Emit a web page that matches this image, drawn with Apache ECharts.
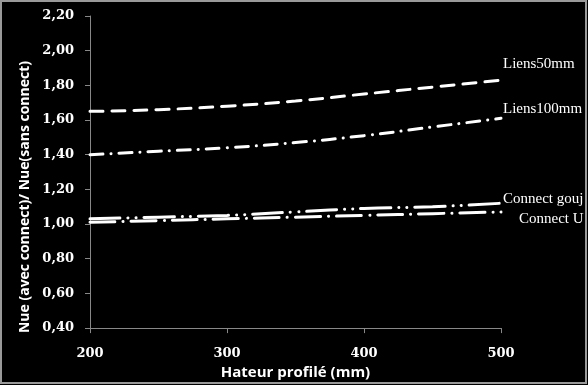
<!DOCTYPE html>
<html><head><meta charset="utf-8">
<script src="https://cdn.jsdelivr.net/npm/echarts@6/dist/echarts.min.js"></script>
<style>html,body{margin:0;padding:0;background:#000}#c{width:588px;height:385px}</style>
</head><body><div id="c"></div>
<script>
const xValues = [200, 250, 300, 350, 400, 450, 500];
const liens50 = [1.65, 1.66, 1.68, 1.71, 1.75, 1.79, 1.83];
const liens100 = [1.40, 1.42, 1.44, 1.47, 1.51, 1.56, 1.61];
const connectGouj = [1.03, 1.04, 1.05, 1.07, 1.09, 1.10, 1.12];
const connectU = [1.01, 1.02, 1.03, 1.04, 1.05, 1.06, 1.07];
const seriesNames = ['Liens50mm', 'Liens100mm', 'Connect gouj', 'Connect U'];

const chart = echarts.init(document.getElementById('c'));
const pair = arr => xValues.map((x, i) => [x, arr[i]]);
function mk(name, arr, dash, off) {
  return {
    name, type: 'line', data: pair(arr), smooth: true, symbol: 'none',
    lineStyle: { color: '#fff', width: 3, type: dash, cap: 'round' },
    endLabel: { show: true, formatter: name, color: '#fff', fontFamily: 'Liberation Serif', fontSize: 15, offset: off, distance: 2 },
    silent: true, animation: false
  };
}
chart.setOption({
  backgroundColor: '#000',
  animation: false,
  grid: { left: 90, right: 87, top: 16, bottom: 53 },
  xAxis: {
    type: 'value', min: 200, max: 500, interval: 100,
    axisLine: { show: true, lineStyle: { color: '#888', width: 1 } },
    axisTick: { show: true, length: 5, lineStyle: { color: '#888' } },
    splitLine: { show: false },
    axisLabel: { color: '#fff', fontFamily: 'DejaVu Serif', fontWeight: 'bold', fontSize: 13, margin: 19 },
    name: 'Hateur profilé (mm)', nameLocation: 'middle', nameGap: 32,
    nameTextStyle: { color: '#fff', fontFamily: 'Open Sans', fontWeight: 'bold', fontSize: 15 }
  },
  yAxis: {
    type: 'value', min: 0.4, max: 2.2, interval: 0.2,
    axisLine: { show: true, lineStyle: { color: '#888', width: 1 } },
    axisTick: { show: true, length: 5, lineStyle: { color: '#888' } },
    splitLine: { show: false },
    axisLabel: { color: '#fff', fontFamily: 'DejaVu Serif', fontWeight: 'bold', fontSize: 13, margin: 16,
      formatter: v => v.toFixed(2).replace('.', ',') }
  },
  graphic: [
    { type: 'rect', shape: { x: 1, y: 1, width: 585, height: 382 }, style: { fill: 'none', stroke: '#999', lineWidth: 2 }, silent: true },
    { type: 'text', x: 25, y: 197, rotation: Math.PI / 2,
      style: { text: 'Nue (avec connect)/ Nue(sans connect)', fill: '#fff', font: 'bold 14px "Open Sans"', align: 'center', verticalAlign: 'middle' } }
  ],
  series: [
    mk(seriesNames[0], liens50, [13, 9], [0, -16]),
    mk(seriesNames[1], liens100, [13, 8, 0.1, 8], [0, -9]),
    mk(seriesNames[2], connectGouj, [30, 8, 0.1, 8, 0.1, 8], [0, -4]),
    mk(seriesNames[3], connectU, [25, 8, 0.1, 8], [16, 7])
  ]
});
</script></body></html>
